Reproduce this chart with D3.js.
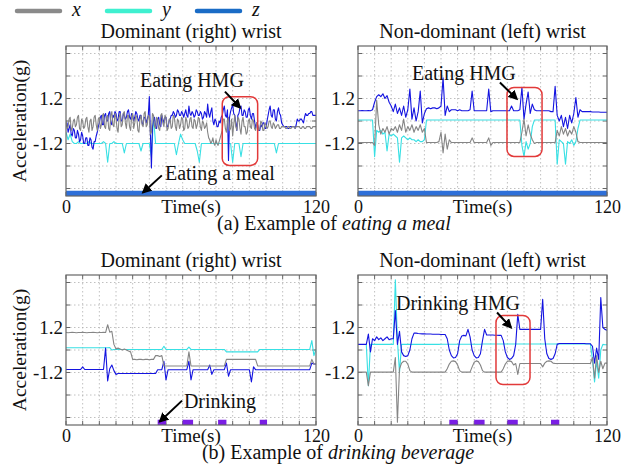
<!DOCTYPE html>
<html>
<head>
<meta charset="utf-8">
<script src="https://cdn.jsdelivr.net/npm/d3@7"></script>
<style>
  body { margin: 0; background: #fff; }
  svg text { font-family: "Liberation Serif", "DejaVu Serif", "Times New Roman", Times, serif; fill: #111; }
</style>
</head>
<body>
<svg id="fig" width="621" height="476"></svg>
<script>
const xGridTicks = d3.range(0, 121, 8);
const yGridTicks = [-3.6, -2.4, -1.2, 0, 1.2, 2.4, 3.6];
const yTickLabels = [-1.2, 1.2];
const xTickLabels = [0, 120];

// (a) eating a meal, dominant (right) wrist -- x and z read every 0.5 s, y every 1 s
const eatDomX = [
  0.0,-0.4,-0.3,0.1,0.2,-0.5,-0.4,0.0,0.1,-0.3,-0.2,0.2,0.3,-0.4,-0.5,0.1,0.0,-0.4,-0.3,0.1,
  0.2,-0.3,-0.6,0.0,0.1,-0.5,-0.3,0.2,0.3,-0.2,-0.5,0.1,0.2,-0.4,-0.2,0.3,0.4,-0.3,-0.4,0.2,
  0.3,-0.4,-0.5,0.3,0.5,-0.2,-0.3,0.4,0.2,-0.4,-0.6,0.2,0.4,-0.3,-0.2,0.4,0.5,-0.1,-0.4,0.3,
  0.3,-0.3,-0.5,0.2,0.4,-0.4,-0.1,0.3,0.2,-0.5,-0.6,0.1,0.3,-0.2,-0.3,0.4,0.5,-0.3,-0.2,0.3,
  0.2,-0.7,-0.6,0.4,0.3,-0.3,-0.4,0.2,0.1,-0.4,-0.5,0.3,0.4,-0.1,-0.3,0.3,0.2,-0.5,-0.4,0.1,
  0.1,-0.4,-0.3,0.3,0.2,-0.3,-0.5,0.1,0.0,-0.4,-0.2,0.2,0.1,-0.5,-0.4,0.2,0.0,-0.4,-0.3,0.1,
  0.2,-0.3,-0.4,0.1,0.0,-0.4,-0.2,0.2,0.1,-0.3,-0.5,0.0,-0.1,-0.4,-0.3,-0.1,-0.6,-0.9,-1.0,-1.2,
  -1.1,-0.9,-1.2,-1.3,-1.0,-1.2,-1.3,-1.1,-0.9,-0.7,-0.5,0.1,0.1,-0.4,-0.6,0.0,0.2,-0.5,-0.4,0.1,
  -0.8,-0.2,0.3,-0.3,-0.5,0.2,0.1,-0.4,-0.7,0.0,0.2,-0.3,-0.3,-0.7,-0.6,0.0,0.1,-0.3,-0.4,0.1,
  0.0,-0.4,-0.5,-0.1,-0.2,-0.5,-0.4,0.0,-0.1,-0.5,-0.5,-0.1,-0.2,-0.4,-0.3,0.0,0.0,-0.3,-0.4,-0.1,
  -0.2,-0.4,-0.3,-0.2,-0.2,-0.4,-0.4,-0.3,-0.3,-0.3,-0.3,-0.4,-0.4,-0.3,-0.3,-0.4,-0.4,-0.3,-0.3,-0.3,
  -0.4,-0.3,-0.3,-0.3,-0.3,-0.4,-0.4,-0.3,-0.3,-0.4,-0.4,-0.3,-0.3,-0.3,-0.3,-0.4,-0.4,-0.3,-0.3,-0.3,
  -0.3];
const eatDomY = [
  -0.6,-1.0,-0.7,-1.1,-1.2,-1.2,-1.1,-1.2,-1.2,-1.2,
  -1.2,-1.1,-1.2,-1.2,-1.2,-1.2,-1.2,-1.2,-1.1,-1.2,
  -2.2,-1.2,-1.2,-1.1,-1.2,-1.2,-1.2,-1.2,-1.7,-1.2,
  -1.2,-1.2,-1.2,-1.2,-1.2,-1.2,-1.6,-1.2,-1.2,-1.2,
  -1.2,-1.9,0.2,-1.2,-1.2,-1.2,-1.2,-1.2,-1.2,-1.2,
  -1.2,-1.2,-1.2,-1.8,-1.2,-0.7,-1.0,-1.2,-1.2,-1.2,
  -1.2,-1.2,-1.2,-1.6,-2.2,-1.2,-1.2,-1.2,-1.2,-1.2,
  -1.2,-1.2,-1.2,-1.2,-1.2,-1.2,-1.2,-1.2,-1.2,-1.2,
  -2.2,-1.2,-1.2,-1.2,-1.9,-1.2,-1.2,-1.2,-1.2,-1.2,
  -1.2,-1.2,-1.2,-1.2,-1.2,-1.2,-1.2,-1.2,-1.2,-1.2,
  -1.2,-1.7,-1.2,-1.2,-1.2,-1.2,-1.2,-1.2,-1.2,-1.2,
  -1.2,-1.2,-1.2,-1.2,-1.2,-1.2,-1.2,-1.2,-1.2,-1.2,
  -1.2];
const eatDomZ = [
  -0.3,-0.1,-0.6,-0.4,-0.2,-0.7,-0.8,-0.4,-0.5,-0.9,-0.9,-0.5,-0.7,-1.1,-1.0,-0.6,-0.8,-1.2,-1.2,-0.9,
  -0.9,-1.3,-1.3,-0.9,-1.0,-1.4,-1.5,-1.1,-1.1,-0.8,-0.6,-0.3,-0.1,0.2,0.3,-0.2,-0.2,0.3,0.4,0.0,
  0.0,0.4,0.5,-0.1,-0.2,0.3,0.2,0.5,0.4,0.0,0.1,0.5,0.5,0.0,0.0,0.4,0.3,0.1,0.2,0.5,
  0.6,0.2,0.1,0.4,0.3,0.0,0.2,0.5,0.4,0.1,0.0,0.3,0.3,-0.1,-0.2,0.2,0.2,-0.1,0.1,0.3,
  1.3,-0.6,-2.5,-0.3,0.0,0.2,-0.3,-0.4,0.1,0.2,-0.2,-0.3,0.3,0.1,-0.1,0.2,0.2,-0.3,-0.3,0.0,
  0.1,0.3,0.3,0.5,0.4,0.2,0.3,0.6,0.5,0.3,0.3,0.5,0.4,0.2,0.4,0.6,0.3,0.2,0.8,0.4,
  0.3,0.5,0.4,0.2,0.3,0.6,0.5,0.3,0.3,0.5,0.4,0.1,0.2,0.5,0.4,0.2,0.9,0.4,0.2,0.5,
  0.7,0.0,-0.2,0.1,0.0,-0.3,-0.3,0.0,-0.1,0.2,0.3,0.6,0.8,0.3,0.2,0.6,-2.1,0.2,0.5,0.7,
  0.9,0.4,0.3,-0.1,-0.5,0.3,0.4,0.7,0.8,0.3,0.3,0.6,0.5,0.2,0.2,0.6,0.7,0.3,0.1,0.4,
  0.4,0.0,-0.4,-0.1,-0.2,-0.5,-0.5,-0.2,-0.3,-0.1,-0.1,-0.4,-0.4,0.0,0.3,0.6,0.8,0.3,0.2,0.6,
  0.6,0.1,0.0,0.5,0.7,0.4,0.3,-0.1,-0.2,-0.3,-0.3,-0.3,-0.3,-0.4,-0.4,-0.3,-0.3,-0.3,-0.3,-0.3,
  -0.4,-0.2,0.1,0.0,0.0,0.1,0.1,0.0,-0.1,0.2,0.4,0.3,0.3,0.4,0.4,0.5,0.5,0.3,0.3,0.3,
  0.3];

// (a) eating a meal, non-dominant (left) wrist -- every 1 s
const eatNonX = [
  -1.15,-1.15,-1.15,-1.15,-1.15,-1.15,-1.15,-1.15,-1.3,1.1,
  -0.2,-0.7,-0.4,-0.6,-0.3,-0.7,-0.4,-0.5,-0.3,-0.6,
  -0.2,-0.5,0.1,-0.6,-0.3,-0.5,-0.2,-0.6,-0.3,-0.5,
  -0.2,-0.6,-0.4,-1.15,-1.15,-1.15,-1.15,-1.15,-1.15,-1.1,
  -0.6,-1.7,-0.7,-1.5,-1.0,-1.15,-1.15,-1.15,-1.15,-1.15,
  -1.15,-1.15,-1.15,-1.15,-1.15,-0.9,-1.15,-1.15,-1.15,-1.15,
  -1.15,-1.15,-1.15,-0.9,-1.3,-1.15,-1.15,-1.15,-1.15,-1.15,
  -1.15,-1.15,-1.15,-1.15,-1.15,-1.15,-1.15,-1.15,-1.15,-0.6,
  0.1,-0.8,-0.2,-0.7,-1.0,-1.2,-1.15,-1.15,-1.15,-1.15,
  -1.15,-1.15,-1.15,-1.15,-1.15,-1.15,-0.5,-0.8,-0.3,-0.7,
  -0.4,-0.8,-0.5,-0.7,-0.3,-0.6,-1.1,-1.15,-1.15,-1.15,
  -1.15,-1.15,-1.15,-1.15,-1.15,-1.15,-1.15,-1.15,-1.15,-1.15,
  -1.15];
const eatNonY = [
  0.05,0.05,0.05,0.05,0.05,0.05,0.05,0.05,-1.9,-0.5,
  -0.6,-0.5,-0.7,-0.6,-1.6,-0.7,-0.8,-0.7,-0.8,-0.9,
  -2.2,-0.9,-0.8,-0.9,-1.0,-0.9,-1.0,-1.0,-1.1,-1.0,
  -1.1,-1.1,-1.0,0.05,0.05,0.05,0.05,0.05,0.05,0.05,
  0.05,0.05,0.05,0.05,0.05,0.05,0.05,0.05,0.05,0.05,
  0.05,0.05,0.05,0.05,0.05,0.05,0.05,0.05,0.05,0.05,
  0.05,0.05,0.05,0.05,0.05,0.05,0.05,0.05,0.05,0.05,
  0.05,0.05,0.05,0.05,0.05,0.05,0.05,0.05,0.05,-1.3,
  -1.9,-1.1,-1.5,-1.2,-0.3,0.05,0.05,0.05,0.05,0.05,
  0.05,0.05,0.05,0.05,0.05,0.05,-2.3,-1.0,-1.1,-1.2,
  -2.3,-1.1,-1.2,-1.0,-1.3,-1.1,-0.4,0.05,0.05,0.05,
  0.05,0.05,0.05,0.05,0.05,0.05,0.05,0.05,0.05,0.05,
  0.05];
const eatNonZ = [
  0.55,0.55,0.56,0.55,0.55,0.56,0.55,0.6,1.0,1.3,
  1.4,1.3,1.45,1.2,1.35,1.0,0.8,0.5,0.9,0.4,
  0.7,0.3,0.8,0.2,0.6,1.7,0.1,0.7,0.0,0.5,
  1.6,-0.1,0.4,0.65,0.7,0.65,0.7,0.7,0.65,0.7,
  0.8,2.3,0.3,0.8,0.5,0.6,0.6,0.6,0.55,0.6,
  0.55,0.55,0.55,0.55,0.6,1.6,0.55,0.55,0.55,0.55,
  0.55,0.55,0.55,1.7,0.5,0.55,0.55,0.55,0.55,0.55,
  0.55,0.55,0.55,0.55,0.8,0.55,0.55,0.55,0.6,1.8,
  0.1,0.9,1.55,0.4,0.9,0.6,0.55,0.55,0.55,0.55,
  0.55,0.55,0.55,0.5,0.5,1.85,0.3,0.0,0.3,-0.3,
  0.2,-0.4,0.3,-0.1,0.4,1.25,0.2,0.6,0.5,0.5,
  0.5,0.5,0.5,0.48,0.48,0.48,0.48,0.47,0.47,0.47,
  0.47];

// (b) drinking beverage, dominant (right) wrist -- every 1 s
const drinkDomX = [
  0.93,0.92,0.93,0.94,0.93,0.92,0.93,0.93,0.94,0.93,
  0.92,0.93,0.93,0.94,0.93,0.92,0.93,0.93,0.94,0.93,
  1.35,0.95,1.0,0.3,0.05,0.1,0.05,0.0,0.05,0.0,
  -0.05,-0.1,-0.5,-0.5,-0.52,-0.5,-0.5,-0.52,-0.5,-0.5,
  -0.52,-0.5,-0.5,-0.3,-0.3,-0.35,-0.3,-0.85,-0.85,-0.85,
  -0.85,-0.85,-0.85,-0.85,-0.85,-0.85,-0.85,-0.85,-0.85,-0.1,
  -0.85,-0.85,-0.85,-0.85,-0.85,-0.85,-0.85,-0.85,-0.85,-0.85,
  -0.85,-0.85,-0.85,-0.85,-0.85,-0.85,-0.85,-0.5,-0.5,-0.5,
  -0.5,-0.5,-0.5,-0.5,-0.5,-0.5,-0.5,-0.5,-0.5,-0.5,
  -0.5,-0.5,-0.85,-0.85,-0.85,-0.85,-0.85,-0.85,-0.85,-0.85,
  -0.85,-0.85,-0.85,-0.85,-0.85,-0.85,-0.85,-0.85,-0.85,-0.85,
  -0.85,-0.85,-0.85,-0.85,-0.85,-0.85,-0.85,-0.85,-0.5,-0.75,
  -0.75];
const drinkDomY = [
  0.12,0.12,0.12,0.12,0.12,0.12,0.12,0.12,0.12,0.12,
  0.12,0.12,0.12,0.12,0.12,0.12,0.12,0.12,0.12,0.12,
  0.12,0.13,0.0,0.03,0.03,0.03,0.03,0.03,0.03,0.03,
  0.03,0.03,0.03,0.03,0.03,0.03,0.03,0.03,0.03,0.03,
  0.03,0.03,0.03,0.03,0.03,0.03,0.03,0.2,0.03,0.03,
  0.03,0.03,0.03,0.03,0.03,0.03,0.03,0.03,0.03,0.15,
  0.03,0.03,0.03,0.03,0.03,0.03,0.03,0.03,0.03,0.03,
  0.03,0.03,0.03,0.03,0.03,0.03,0.03,-0.1,-0.1,-0.1,
  -0.1,-0.1,-0.1,-0.1,-0.1,-0.1,-0.1,-0.1,-0.1,-0.1,
  -0.1,-0.1,-0.1,0.03,0.03,0.03,0.03,0.03,0.03,0.03,
  0.03,0.03,0.03,0.03,0.03,0.03,0.03,0.03,0.03,0.03,
  0.03,0.03,0.03,0.03,0.03,0.03,0.03,0.03,0.5,-0.3,
  0.05];
const drinkDomZ = [
  -1.04,-1.04,-1.04,-1.04,-1.04,-1.04,-1.04,-1.04,-0.9,-1.04,
  -1.04,-1.04,-1.04,-1.04,-1.04,-1.04,-1.04,-1.04,-1.04,0.1,
  -1.65,-1.0,-0.8,-1.1,-1.3,-1.25,-1.25,-1.25,-1.25,-1.25,
  -1.25,-1.25,-1.25,-1.25,-1.25,-1.25,-1.25,-1.25,-1.25,-1.25,
  -1.25,-1.25,-1.25,-1.25,-1.05,-1.05,-1.05,-0.6,-1.6,-1.05,
  -1.05,-1.05,-1.05,-1.05,-1.05,-1.05,-1.05,-1.05,-1.05,-0.6,
  -1.6,-1.05,-1.05,-1.05,-1.05,-1.05,-1.05,-1.05,-1.05,-0.8,
  -1.3,-1.05,-1.05,-1.05,-1.05,-1.05,-1.05,-0.7,-1.4,-1.05,
  -1.05,-1.05,-1.05,-1.05,-1.05,-1.05,-1.05,-1.05,-1.05,-1.7,
  -0.9,-1.05,-1.05,-1.05,-1.05,-1.05,-1.05,-1.05,-1.05,-1.05,
  -1.05,-1.05,-1.05,-1.05,-1.05,-1.05,-1.05,-1.05,-1.05,-1.05,
  -1.05,-1.05,-1.05,-1.05,-1.05,-1.05,-1.05,-1.05,-0.7,-0.75,
  -0.75];

// (b) drinking beverage, non-dominant (left) wrist -- every 1 s
const drinkNonX = [
  -1.18,-1.18,-1.18,-1.18,-1.18,-1.9,-1.18,-1.18,-1.18,-1.18,
  -1.18,-1.18,-1.18,-1.18,-1.18,-1.18,-1.18,-1.18,-0.4,-3.85,
  -1.0,-0.7,-0.6,-0.6,-0.75,-1.1,-1.18,-1.18,-1.18,-1.18,
  -1.18,-1.18,-1.18,-1.18,-1.18,-1.18,-1.18,-1.18,-1.18,-1.18,
  -1.18,-1.18,-1.18,-1.0,-0.75,-0.6,-0.58,-0.62,-0.8,-1.1,
  -1.18,-1.18,-1.18,-1.18,-1.18,-0.9,-0.65,-0.58,-0.62,-0.8,
  -1.1,-1.18,-1.18,-1.18,-1.18,-1.18,-1.18,-1.18,-1.18,-1.18,
  -1.0,-0.75,-0.6,-0.58,-0.62,-0.8,-0.72,-1.3,-0.72,-0.72,
  -0.72,-0.72,-0.72,-0.72,-0.72,-0.72,-0.72,-0.72,-0.72,-0.9,
  -0.7,-0.6,-0.58,-0.6,-0.7,-0.72,-0.72,-0.72,-0.72,-0.72,
  -0.72,-0.72,-0.72,-0.72,-0.72,-0.72,-0.72,-0.72,-0.72,-0.72,
  -0.72,-0.72,-0.72,-0.4,-1.5,-0.3,-1.2,-0.6,-1.0,-0.7,
  -0.7];
const drinkNonY = [
  0.29,0.29,0.29,0.29,0.29,-1.9,0.3,0.3,0.3,0.3,
  0.3,0.3,0.3,0.3,0.3,0.3,0.3,0.3,3.75,0.5,
  -1.2,0.3,0.3,0.3,0.3,0.3,0.3,0.3,0.3,0.3,
  0.3,0.3,0.3,0.3,0.3,0.3,0.3,0.3,0.3,0.3,
  0.31,0.31,0.31,0.31,0.31,0.31,0.31,0.31,0.31,0.31,
  0.31,0.31,0.31,0.31,0.31,0.31,0.31,0.31,0.31,0.31,
  0.32,0.32,0.32,0.32,0.32,0.32,0.32,0.32,0.32,0.32,
  0.32,0.32,0.32,0.32,0.32,0.32,0.32,0.32,0.32,0.32,
  0.32,0.32,0.32,0.32,0.32,0.32,0.32,0.32,0.32,0.32,
  0.32,0.32,0.32,0.32,0.32,0.32,0.32,0.32,0.32,0.32,
  0.32,0.32,0.32,0.32,0.32,0.32,0.32,0.32,0.32,0.32,
  0.32,0.32,0.32,-0.5,-1.7,-0.6,-1.5,0.0,0.3,0.28,
  0.28];
const drinkNonZ = [
  0.3,0.3,0.3,0.3,0.3,0.85,-0.1,0.6,0.5,0.7,
  0.55,0.65,0.5,0.6,0.7,0.55,0.6,0.6,2.1,0.3,
  1.0,-0.1,-0.3,-0.35,-0.3,0.0,0.6,0.9,0.9,0.88,
  0.87,0.86,0.86,0.85,0.85,0.85,0.84,0.84,0.84,0.84,
  0.83,0.83,0.83,0.6,0.0,-0.3,-0.42,-0.4,-0.2,0.5,
  0.75,0.78,0.75,1.1,0.7,0.0,-0.3,-0.42,-0.4,-0.2,
  0.5,1.1,0.8,0.8,0.8,0.8,0.79,0.79,0.78,0.78,
  0.5,-0.1,-0.4,-0.5,-0.45,-0.3,0.3,1.9,1.1,1.1,
  1.1,1.1,1.1,1.1,1.1,1.1,1.1,1.1,1.1,2.7,
  0.6,-0.2,-0.45,-0.5,-0.45,-0.2,0.3,0.35,0.35,0.35,
  0.35,0.35,0.35,0.35,0.35,0.35,0.35,0.35,0.35,0.35,
  0.33,0.33,0.33,0.2,-0.7,0.1,-0.5,2.8,1.2,1.1,
  1.05];

// labelled activity intervals [start s, end s]
const eatingBands = [[0, 120]];
const drinkDomBands = [[44, 48], [56, 61], [73, 77], [93, 96.5]];
const drinkNonBands = [[44, 48], [56, 61], [72, 77], [93, 97]];

const legendKeys = ['x', 'y', 'z'];
const lineColor = { x: '#858585', y: '#38e0e4', z: '#1414e0' };
const legendColor = { x: '#8a8a8a', y: '#3ff0d0', z: '#1a6cc6' };
const serif = '"Liberation Serif", "DejaVu Serif", "Times New Roman", serif';

const svg = d3.select('#fig');
const defs = svg.append('defs');
defs.append('marker')
    .attr('id', 'arrow')
    .attr('viewBox', '0 0 10 10')
    .attr('refX', 8).attr('refY', 5)
    .attr('markerWidth', 5).attr('markerHeight', 5)
    .attr('markerUnits', 'strokeWidth')
    .attr('orient', 'auto')
  .append('path')
    .attr('d', 'M0,0L10,5L0,10z')
    .attr('fill', '#000');

// legend
legendKeys.forEach((k, i) => {
  const x0 = 17 + i * 90;
  svg.append('line')
      .attr('x1', x0).attr('x2', x0 + 43).attr('y1', 11).attr('y2', 11)
      .attr('stroke', legendColor[k]).attr('stroke-width', 4.5)
      .attr('stroke-linecap', 'round');
  svg.append('text')
      .attr('x', x0 + 55).attr('y', 16)
      .attr('font-family', serif)
      .style('font-size', '20px').style('font-style', 'italic')
      .text(k);
});

const panels = [
  { id: 'al', x0: 66, x1: 316, y0: 46, y1: 196, title: 'Dominant (right) wrist', yLabel: true,
    series: { x: eatDomX, y: eatDomY, z: eatDomZ }, bands: eatingBands, bandColor: '#2e6fd8',
    box: { t0: 75, t1: 92, v0: -2.37, v1: 1.3 },
    notes: [ { text: 'Eating HMG', t: 35.5, v: 1.84 }, { text: 'Eating a meal', t: 47.5, v: -3.12 } ],
    arrows: [ { from: [76.3, 1.57], to: [83.5, 0.72] }, { from: [46, -2.9], to: [37, -3.81] } ] },
  { id: 'ar', x0: 358, x1: 607, y0: 46, y1: 196, title: 'Non-dominant (left) wrist', yLabel: false,
    series: { x: eatNonX, y: eatNonY, z: eatNonZ }, bands: eatingBands, bandColor: '#2e6fd8',
    box: { t0: 71.8, t1: 88.7, v0: -1.89, v1: 1.79 },
    notes: [ { text: 'Eating HMG', t: 26, v: 2.21 } ],
    arrows: [ { from: [68.4, 2.05], to: [76.5, 1.18] } ] },
  { id: 'bl', x0: 66, x1: 316, y0: 275, y1: 425, title: 'Dominant (right) wrist', yLabel: true,
    series: { x: drinkDomX, y: drinkDomY, z: drinkDomZ }, bands: drinkDomBands, bandColor: '#7a1fe4',
    box: null,
    notes: [ { text: 'Drinking', t: 56.6, v: -3.07 } ],
    arrows: [ { from: [55.7, -2.7], to: [45.1, -3.81] } ] },
  { id: 'br', x0: 358, x1: 607, y0: 275, y1: 425, title: 'Non-dominant (left) wrist', yLabel: false,
    series: { x: drinkNonX, y: drinkNonY, z: drinkNonZ }, bands: drinkNonBands, bandColor: '#7a1fe4',
    box: { t0: 66.5, t1: 82.9, v0: -1.84, v1: 1.84 },
    notes: [ { text: 'Drinking HMG', t: 18.3, v: 2.16 } ],
    arrows: [ { from: [67, 2.0], to: [73.7, 1.2] } ] }
];

function drawPanel(p) {
  const x = d3.scaleLinear().domain([0, 120]).range([p.x0, p.x1]);
  const y = d3.scaleLinear().domain([-4, 4]).range([p.y1, p.y0]);
  const g = svg.append('g').attr('font-family', serif);

  defs.append('clipPath').attr('id', 'clip-' + p.id)
    .append('rect')
      .attr('x', p.x0).attr('y', p.y0)
      .attr('width', p.x1 - p.x0).attr('height', p.y1 - p.y0);

  // dotted grid
  g.append('g').selectAll('line').data(xGridTicks.slice(1, -1)).join('line')
      .attr('x1', d => x(d)).attr('x2', d => x(d))
      .attr('y1', p.y0).attr('y2', p.y1)
      .attr('stroke', '#b0b0b0').attr('stroke-width', 0.8)
      .attr('stroke-dasharray', '1.5,2.5');
  g.append('g').selectAll('line').data(yGridTicks).join('line')
      .attr('x1', p.x0).attr('x2', p.x1)
      .attr('y1', d => y(d)).attr('y2', d => y(d))
      .attr('stroke', '#b0b0b0').attr('stroke-width', 0.8)
      .attr('stroke-dasharray', '1.5,2.5');

  // inward tick marks on all four sides
  const tk = g.append('g').attr('stroke', '#666').attr('stroke-width', 1);
  xGridTicks.forEach(d => {
    tk.append('line').attr('x1', x(d)).attr('x2', x(d)).attr('y1', p.y1).attr('y2', p.y1 - 4);
    tk.append('line').attr('x1', x(d)).attr('x2', x(d)).attr('y1', p.y0).attr('y2', p.y0 + 4);
  });
  yGridTicks.forEach(d => {
    tk.append('line').attr('x1', p.x0).attr('x2', p.x0 + 4).attr('y1', y(d)).attr('y2', y(d));
    tk.append('line').attr('x1', p.x1).attr('x2', p.x1 - 4).attr('y1', y(d)).attr('y2', y(d));
  });

  // activity label bands
  g.append('g').selectAll('rect').data(p.bands).join('rect')
      .attr('x', d => x(d[0])).attr('width', d => x(d[1]) - x(d[0]))
      .attr('y', y(-3.72)).attr('height', y(-4) - y(-3.72))
      .attr('fill', p.bandColor);

  // signals: samples are evenly spaced over 0..120 s
  const lg = g.append('g').attr('clip-path', `url(#clip-${p.id})`);
  ['y', 'z', 'x'].forEach(k => {
    const vals = p.series[k];
    const step = 120 / (vals.length - 1);
    const line = d3.line().x((d, i) => x(i * step)).y(d => y(d));
    lg.append('path')
        .attr('d', line(vals))
        .attr('fill', 'none')
        .attr('stroke', lineColor[k])
        .attr('stroke-width', 1.1)
        .attr('stroke-linejoin', 'round');
  });

  // frame
  g.append('rect')
      .attr('x', p.x0).attr('y', p.y0)
      .attr('width', p.x1 - p.x0).attr('height', p.y1 - p.y0)
      .attr('fill', 'none').attr('stroke', '#666').attr('stroke-width', 1.2);

  // axes text
  const ya = g.append('g').attr('transform', `translate(${p.x0},0)`)
      .call(d3.axisLeft(y).tickValues(yTickLabels).tickSize(0).tickPadding(3).tickFormat(d => String(d)));
  ya.select('.domain').remove();
  ya.attr('font-family', serif).attr('font-size', 19);
  ya.selectAll('text').attr('fill', '#111');

  const xa = g.append('g').attr('transform', `translate(0,${p.y1})`)
      .call(d3.axisBottom(x).tickValues(xTickLabels).tickSize(0).tickPadding(4));
  xa.select('.domain').remove();
  xa.attr('font-family', serif).attr('font-size', 18);
  xa.selectAll('text').attr('fill', '#111');

  g.append('text')
      .attr('x', (p.x0 + p.x1) / 2).attr('y', p.y1 + 17)
      .attr('text-anchor', 'middle').style('font-size', '19px')
      .text('Time(s)');

  g.append('text')
      .attr('x', (p.x0 + p.x1) / 2).attr('y', p.y0 - 8)
      .attr('text-anchor', 'middle').style('font-size', '20px')
      .text(p.title);

  if (p.yLabel) {
    g.append('text')
        .attr('transform', `translate(26,${(p.y0 + p.y1) / 2}) rotate(-90)`)
        .attr('text-anchor', 'middle').style('font-size', '19.5px')
        .text('Acceleration(g)');
  }

  // annotations
  if (p.box) {
    g.append('rect')
        .attr('x', x(p.box.t0)).attr('y', y(p.box.v1))
        .attr('width', x(p.box.t1) - x(p.box.t0)).attr('height', y(p.box.v0) - y(p.box.v1))
        .attr('rx', 7).attr('fill', 'none')
        .attr('stroke', '#e23a3a').attr('stroke-width', 1.5);
  }
  p.notes.forEach(n => {
    g.append('text').attr('x', x(n.t)).attr('y', y(n.v))
        .style('font-size', '20px').text(n.text);
  });
  p.arrows.forEach(a => {
    g.append('line')
        .attr('x1', x(a.from[0])).attr('y1', y(a.from[1]))
        .attr('x2', x(a.to[0])).attr('y2', y(a.to[1]))
        .attr('stroke', '#000').attr('stroke-width', 2)
        .attr('marker-end', 'url(#arrow)');
  });
}

panels.forEach(drawPanel);

// captions
const captions = [
  { x: 334, y: 230, plain: '(a) Example of ', italic: 'eating a meal' },
  { x: 338, y: 459, plain: '(b) Example of ', italic: 'drinking beverage' }
];
captions.forEach(c => {
  const t = svg.append('text').attr('x', c.x).attr('y', c.y)
      .attr('font-family', serif)
      .attr('text-anchor', 'middle').style('font-size', '20px');
  t.append('tspan').text(c.plain);
  t.append('tspan').style('font-style', 'italic').text(c.italic);
});
</script>
</body>
</html>
